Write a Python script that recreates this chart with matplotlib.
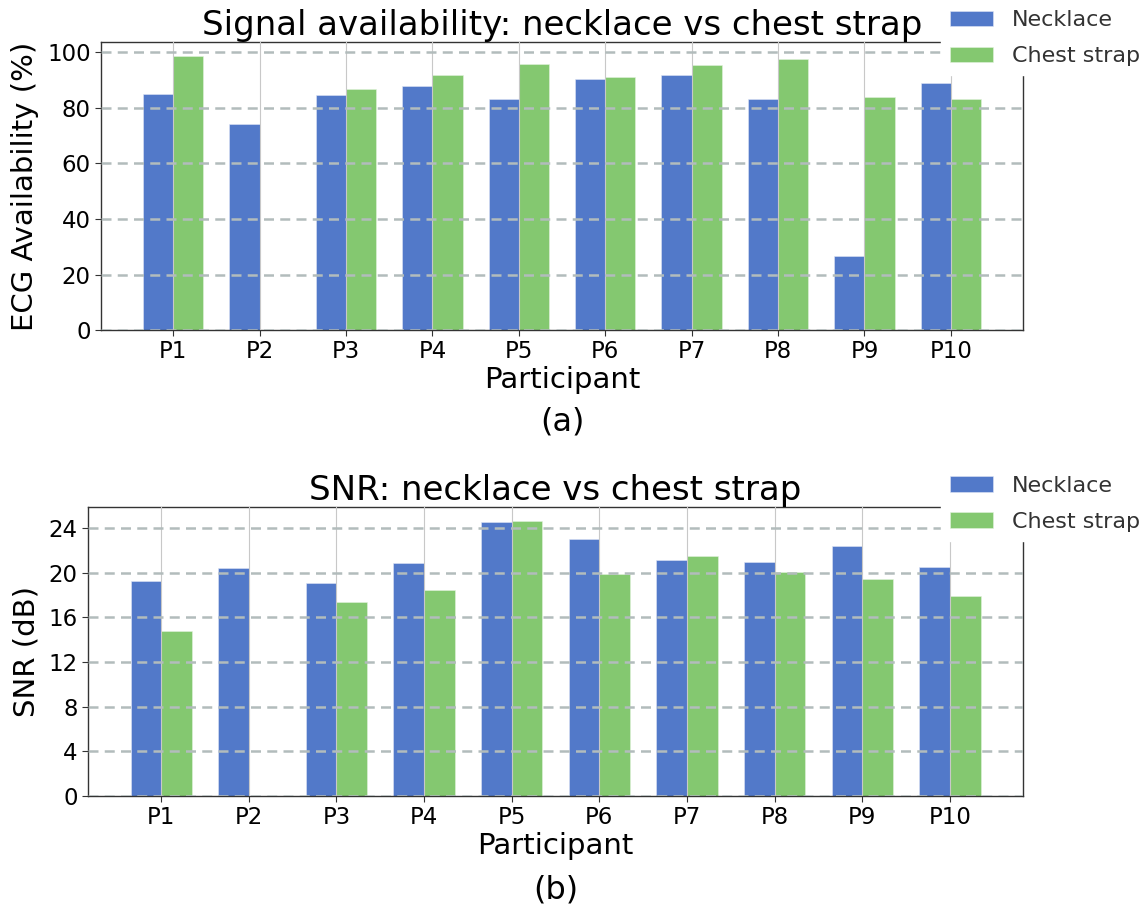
import numpy as np
import matplotlib
matplotlib.use("Agg")
import matplotlib.pyplot as plt

participants = ["P1", "P2", "P3", "P4", "P5", "P6", "P7", "P8", "P9", "P10"]

# ECG availability (%)
avail_necklace = [85.0, 74.3, 84.5, 88.0, 83.2, 90.3, 91.7, 83.4, 26.7, 88.9]
avail_chest = [98.8, 0.0, 86.8, 91.8, 96.0, 91.1, 95.6, 97.5, 83.9, 83.2]

# Signal-to-noise ratio (dB)
snr_necklace = [19.24, 20.43, 19.09, 20.91, 24.57, 23.07, 21.18, 21.00, 22.44, 20.52]
snr_chest = [14.80, 0.0, 17.35, 18.46, 24.66, 19.90, 21.48, 20.10, 19.42, 17.92]

BLUE = "#5279C9"
GREEN = "#84C870"
WIDTH = 0.35

plt.rcParams["font.family"] = "DejaVu Sans"

fig = plt.figure(figsize=(11.4, 9.16), dpi=100)
ax1 = fig.add_axes([0.0886, 0.6397, 0.8088, 0.3144])
ax2 = fig.add_axes([0.0772, 0.1310, 0.8202, 0.3155])


def draw_panel(ax, necklace, chest, title, ylabel, yticks, caption, legend_top):
    x = np.arange(len(participants))
    ax.bar(x - WIDTH / 2, necklace, WIDTH, color=BLUE, label="Necklace",
           edgecolor="#dfe6f5", linewidth=0.4, zorder=1)
    ax.bar(x + WIDTH / 2, chest, WIDTH, color=GREEN, label="Chest strap",
           edgecolor="#e3f2de", linewidth=0.4, zorder=1)
    ax.set_xticks(x)
    ax.set_xticklabels(participants, fontsize=16.5)
    ax.set_yticks(yticks)
    ax.tick_params(axis="y", labelsize=16.5, length=4, width=0.8, color="#333333")
    ax.tick_params(axis="x", length=4, width=0.8, color="#333333")
    ax.yaxis.grid(True, linestyle=(0, (4, 2.5)), linewidth=1.8, color="#b2bcbc", zorder=2)
    ax.xaxis.grid(True, linestyle="-", linewidth=0.8, color="#c8c8c8", zorder=2)
    ax.set_axisbelow(False)
    for s in ax.spines.values():
        s.set_color("#333333")
        s.set_linewidth(1.0)
    ax.set_title(title, fontsize=24.5, pad=4)
    ax.set_ylabel(ylabel, fontsize=21, labelpad=6)
    ax.set_xlabel("Participant", fontsize=21, labelpad=2)
    leg = ax.legend(loc="upper left", bbox_to_anchor=(0.8254, legend_top),
                    bbox_transform=fig.transFigure, borderaxespad=0, fontsize=16,
                    frameon=True, framealpha=1.0, edgecolor="white", fancybox=False,
                    handlelength=1.95, handleheight=0.7, borderpad=0.4,
                    labelspacing=0.72, handletextpad=0.85)
    leg.set_zorder(10)
    for t in leg.get_texts():
        t.set_color("#333333")
    ax.text(0.5, caption[1], caption[0], transform=ax.transAxes,
            ha="center", va="center", fontsize=23)


draw_panel(ax1, avail_necklace, avail_chest,
           "Signal availability: necklace vs chest strap",
           "ECG Availability (%)", [0, 20, 40, 60, 80, 100], ("(a)", -0.32), 0.9985)
draw_panel(ax2, snr_necklace, snr_chest,
           "SNR: necklace vs chest strap",
           "SNR (dB)", [0, 4, 8, 12, 16, 20, 24], ("(b)", -0.325), 0.4900)

fig.savefig("out.png", dpi=100)
